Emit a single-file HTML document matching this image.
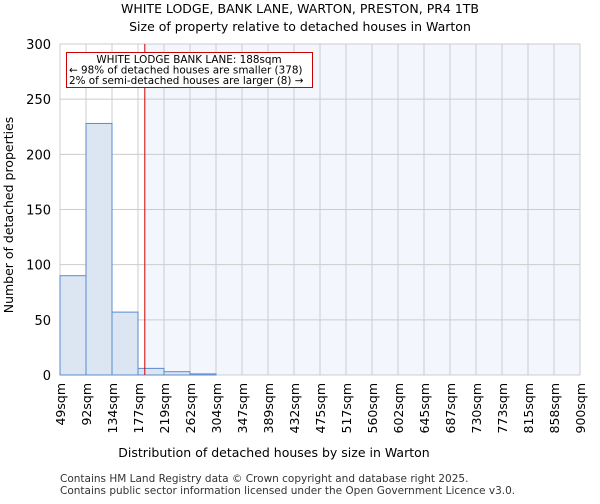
<!DOCTYPE html>
<html><head><meta charset="utf-8"><style>
body{margin:0;background:#fff;font-family:"DejaVu Sans","Liberation Sans",sans-serif}
</style></head><body>
<svg id="chart" width="600" height="500" xmlns="http://www.w3.org/2000/svg" font-family="DejaVu Sans, Liberation Sans, sans-serif">
<text x="300" y="13" font-size="12.5" text-anchor="middle">WHITE LODGE, BANK LANE, WARTON, PRESTON, PR4 1TB</text>
<text x="300" y="31" font-size="12.5" text-anchor="middle">Size of property relative to detached houses in Warton</text>
<g id="plot"></g>
<text x="274" y="457" font-size="12.5" text-anchor="middle">Distribution of detached houses by size in Warton</text>
<text transform="translate(13,215) rotate(-90)" font-size="12.5" text-anchor="middle">Number of detached properties</text>
<text x="60" y="482" font-size="10.5" fill="#333">Contains HM Land Registry data © Crown copyright and database right 2025.</text>
<text x="60" y="494" font-size="10.5" fill="#333">Contains public sector information licensed under the Open Government Licence v3.0.</text>
</svg>
<script>
const edges = [49,92,134,177,219,262,304,347,389,432,475,517,560,602,645,687,730,773,815,858,900];
const counts = [90,228,57,6,3,1,0,0,0,0,0,0,0,0,0,0,0,0,0,0];
const yTicks = [0,50,100,150,200,250,300];
const propertySize = 188;
const L=60,R=580,T=44,B=375,YMAX=300;
const NS="http://www.w3.org/2000/svg";
const g=document.getElementById('plot');
const bw=(R-L)/(edges.length-1);
function xIdx(i){return L+i*bw;}
function xVal(v){for(let i=0;i<edges.length-1;i++){if(v<=edges[i+1])return xIdx(i)+(v-edges[i])/(edges[i+1]-edges[i])*bw;}return R;}
function y(v){return B-v/YMAX*(B-T);}
function mk(t,a){const e=document.createElementNS(NS,t);for(const k in a)e.setAttribute(k,a[k]);g.appendChild(e);return e;}
const px=xVal(propertySize);
let e=mk('rect',{x:px,y:T,width:R-px,height:B-T,fill:'#f3f6fd'});


yTicks.forEach(t=>{
 let l=mk('line',{x1:L,x2:R,y1:y(t),y2:y(t),stroke:'#ccc'});
 
 
 let tx=mk('text',{x:L-9,y:y(t)+5,'font-size':13,'text-anchor':'end'});tx.textContent=t;
 
 
});
edges.forEach((v,i)=>{
 let l=mk('line',{x1:xIdx(i),x2:xIdx(i),y1:T,y2:B,stroke:'#ccc'});
 
 
 let tx=mk('text',{transform:`translate(${xIdx(i)+5},${B+8}) rotate(-90)`,'font-size':12.5,'text-anchor':'end'});tx.textContent=v+'sqm';
 
 
});
counts.forEach((c,i)=>{
 if(c<=0)return;
 let r=mk('rect',{x:xIdx(i),y:y(c),width:bw,height:B-y(c),fill:'#dce6f2',stroke:'#5a8bd0','stroke-width':1});
 
 
});
let pl=mk('line',{x1:px,x2:px,y1:T,y2:B,stroke:'#cc0000','stroke-width':1});


let box=mk('rect',{x:66.5,y:52.5,width:246,height:35,fill:'#fff',stroke:'#cc0000'});


[["WHITE LODGE BANK LANE: 188sqm",189,'middle',63],["← 98% of detached houses are smaller (378)",69,'start',73.5],["2% of semi-detached houses are larger (8) →",69,'start',84]].forEach(a=>{
 let t=mk('text',{x:a[1],y:a[3],'font-size':10.4,'text-anchor':a[2]});t.textContent=a[0];
 
 
});
</script>
</body></html>
